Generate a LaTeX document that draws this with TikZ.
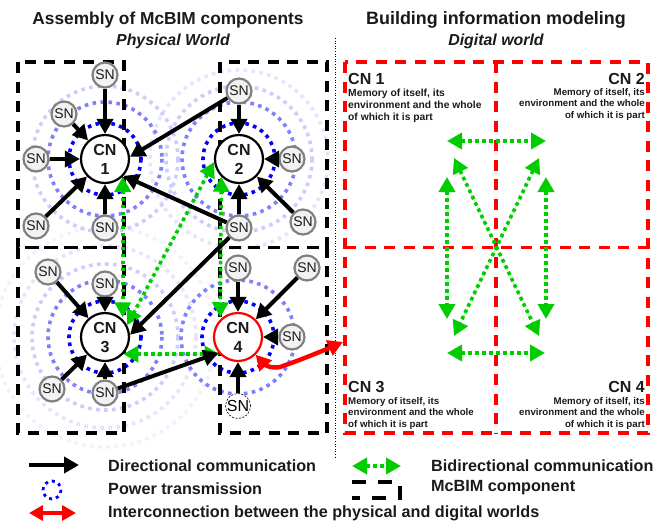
\documentclass[tikz,border=0pt]{standalone}
\usepackage{fontspec}
\setmainfont{Liberation Sans}
\usetikzlibrary{arrows.meta}
\definecolor{ringA}{HTML}{0000FF}
\definecolor{ringB}{HTML}{8080FF}
\definecolor{ringC}{HTML}{CCCCFF}
\definecolor{ringD}{HTML}{E4E4FF}
\definecolor{ringE}{HTML}{F1F1FF}
\definecolor{bidir}{HTML}{00CC00}
\definecolor{snline}{HTML}{808080}
\definecolor{snfill}{HTML}{F2F2F2}
\definecolor{ink}{HTML}{1A1A1A}
\tikzset{
  x=1pt,y=-1pt,
  ring/.style={line width=3.6pt,dash pattern=on 3.6pt off 4.4pt},
  compbox/.style={draw=black,line width=3.2pt,dash pattern=on 11pt off 8.5pt},
  digibox/.style={draw=red,line width=3.2pt,dash pattern=on 11pt off 8.5pt},
  cnnode/.style={circle,draw=black,fill=white,line width=2.2pt,minimum size=48pt,inner sep=0pt,align=center,
    font=\fontsize{16}{19}\selectfont\bfseries,text=ink},
  snnode/.style={circle,draw=snline,fill=snfill,line width=2.2pt,minimum size=25pt,inner sep=0pt,
    font=\fontsize{14}{16}\selectfont,text=ink},
  comm/.style={draw=black,line width=4pt,-{Triangle[length=15pt,width=16pt]}},
  bi/.style={draw=bidir,fill=bidir,line width=3.6pt,dash pattern=on 3.6pt off 3.4pt,
    {Triangle[length=15pt,width=16pt,fill=bidir]}-{Triangle[length=15pt,width=16pt,fill=bidir]}},
  inter/.style={draw=red,line width=4.4pt,{Triangle[length=15pt,width=16pt]}-{Triangle[length=15pt,width=16pt]}},
  title/.style={font=\fontsize{17.3}{20}\selectfont\bfseries,text=ink},
  subtitle/.style={font=\fontsize{15.9}{18}\selectfont\bfseries\itshape,text=ink},
  cntag/.style={font=\fontsize{16}{18}\selectfont\bfseries,text=ink,inner sep=0pt},
  memo/.style={font=\fontsize{9.7}{11.7}\selectfont\bfseries,text=ink,inner sep=0pt},
  legend/.style={font=\fontsize{16.2}{18}\selectfont\bfseries,text=ink,inner sep=0pt,anchor=west},
}
\begin{document}
\begin{tikzpicture}
\useasboundingbox (0,0) rectangle (667,523);
% power rings
\foreach \cx/\cy/\rr/\cc in {105/337/110/ringE,105/337/91/ringD,239/159/89/ringD,
  105/159/73/ringC,239/159/73/ringC,105/337/73/ringC,
  105/159/57/ringB,239/159/57/ringB,105/337/57/ringB,238/337/57/ringB,
  105/159/36/ringA,239/159/36/ringA,105/337/36/ringA,238/337/36/ringA}
  {\draw[ring,draw=\cc] (\cx,\cy) circle (\rr);}
% McBIM components
\draw[compbox] (18,62) rectangle (124,247.5);
\draw[compbox] (220,62) rectangle (327,247.5);
\draw[compbox] (18,247.5) rectangle (124,433);
\draw[compbox] (220,247.5) rectangle (327,433);
% digital side
\draw[digibox] (345,62) rectangle (648,433);
\draw[digibox] (345,247.5) -- (648,247.5);
\draw[digibox] (496,62) -- (496,433);
\draw[line width=0.6pt,dotted] (335,38) -- (335,459);
% CN
\node[cnnode] (c1) at (105,159) {CN\\1};
\node[cnnode] (c2) at (239,159) {CN\\2};
\node[cnnode] (c3) at (105,337) {CN\\3};
\node[cnnode,draw=red] (c4) at (238,337) {CN\\4};
% SN
\node[snnode] (s1a) at (105,75) {SN};
\node[snnode] (s1b) at (64,114) {SN};
\node[snnode] (s1c) at (36,159) {SN};
\node[snnode] (s1d) at (36,226) {SN};
\node[snnode] (s1e) at (105,228) {SN};
\node[snnode] (s2a) at (239,91) {SN};
\node[snnode] (s2b) at (292,159) {SN};
\node[snnode] (s2c) at (303,222) {SN};
\node[snnode] (s2d) at (239,228) {SN};
\node[snnode] (s3a) at (48,272) {SN};
\node[snnode] (s3b) at (105,284) {SN};
\node[snnode] (s3c) at (52,389) {SN};
\node[snnode] (s3d) at (105,393) {SN};
\node[snnode] (s4a) at (238,268) {SN};
\node[snnode] (s4b) at (307,268) {SN};
\node[snnode] (s4c) at (292,337) {SN};
\node[snnode,draw=black,fill=white,line width=0.6pt,dash pattern=on 2pt off 1.5pt,
  font=\fontsize{16}{18}\selectfont,text=black] (s4d) at (238,406) {SN};
% green links
\draw[bi,shorten >=2pt] (c1.-45) -- (c3.45);
\draw[bi,shorten >=2pt] (c2.-135) -- (c4.135);
\draw[bi] (c2.187) -- (c3.28);
\draw[bi] (c3.-43) -- (c4.-137);
% black links
\foreach \a/\b in {s1a/c1,s1b/c1,s1c/c1,s1d/c1,s1e/c1,
  s2a/c2,s2b/c2,s2c/c2,s2d/c2,
  s3a/c3,s3b/c3,s3c/c3,s3d/c3,
  s4a/c4,s4b/c4,s4c/c4,s4d/c4}
  {\draw[comm] (\a) -- (\b);}
\draw[comm] (s2a) -- (c1.5);
\draw[comm] (s2d) -- (c1.-42);
\draw[comm] (s2d) -- (c3.5);
\draw[comm] (s3d) -- (c4.-141);
% physical-digital link
\coordinate (dport) at (343,342);
\draw[inter] (c4.-45) .. controls (264,364) and (270,369) .. (280,367) .. controls (295,362) and (320,352) .. (dport);
% digital links
\coordinate (d1a) at (447,141); \coordinate (d1b) at (546,141);
\coordinate (d2a) at (447,353); \coordinate (d2b) at (545,353);
\coordinate (d3a) at (447,177); \coordinate (d3b) at (447,319);
\coordinate (d4a) at (546,177); \coordinate (d4b) at (546,319);
\coordinate (d5a) at (454,158); \coordinate (d5b) at (539,336);
\coordinate (d6a) at (539,158); \coordinate (d6b) at (454,336);
\foreach \n in {1,...,6} {\draw[bi] (d\n a) -- (d\n b);}
% titles
\node[title] (t1) at (168,20) {Assembly of McBIM components};
\node[subtitle] (t2) at (173,41) {Physical World};
\node[title,font=\fontsize{17.9}{20}\selectfont\bfseries] (t3) at (496,20) {Building information modeling};
\node[subtitle] (t4) at (496,41) {Digital world};
% digital text
\node[cntag,anchor=west] (n1) at (348,79) {CN 1};
\node[cntag,anchor=east] (n2) at (645,79) {CN 2};
\node[cntag,anchor=west] (n3) at (348,387) {CN 3};
\node[cntag,anchor=east] (n4) at (645,387) {CN 4};
\node[memo,font=\fontsize{10.3}{12}\selectfont\bfseries,align=left,anchor=north west] (m1) at (348,89) {Memory of itself, its\\environment and the whole\\of which it is part};
\node[memo,align=right,anchor=north east] (m2) at (645,88) {Memory of itself, its\\environment and the whole\\of which it is part};
\node[memo,align=left,anchor=north west] (m3) at (348,397) {Memory of itself, its\\environment and the whole\\of which it is part};
\node[memo,align=right,anchor=north east] (m4) at (645,397) {Memory of itself, its\\environment and the whole\\of which it is part};
% legend
\coordinate (la) at (29,465); \coordinate (lb) at (79,465);
\draw[comm] (la) -- (lb);
\node[legend] (l1) at (108,466) {Directional communication};
\draw[line width=2.8pt,draw=ringA,dash pattern=on 3pt off 4pt] (52,490) circle (9);
\node[legend] (l2) at (108,489) {Power transmission};
\coordinate (ra) at (29,513); \coordinate (rb) at (76,513);
\draw[draw=red,line width=3.4pt,{Triangle[length=14pt,width=15pt]}-{Triangle[length=14pt,width=15pt]}] (ra) -- (rb);
\node[legend] (l3) at (108,513) {Interconnection between the physical and digital worlds};
\coordinate (ga) at (352,466); \coordinate (gb) at (401,466);
\draw[bi] (ga) -- (gb);
\node[legend] (l4) at (431,466) {Bidirectional communication};
\draw[line width=3.2pt,draw=black,dash pattern=on 14pt off 12pt] (352,482) -- (400,482) -- (400,498) -- (352,498);
\node[legend] (l5) at (431,488) {McBIM component};
\end{tikzpicture}
\end{document}
